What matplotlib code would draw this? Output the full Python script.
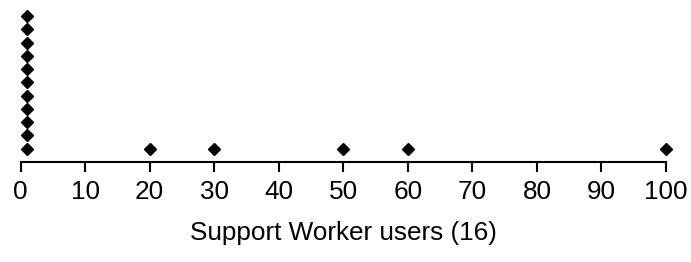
import matplotlib
matplotlib.use("Agg")
import matplotlib.pyplot as plt
from collections import Counter

# one entry per user
users = [1, 1, 1, 1, 1, 1, 1, 1, 1, 1, 1, 20, 30, 50, 60, 100]
x_ticks = [0, 10, 20, 30, 40, 50, 60, 70, 80, 90, 100]
x_label = "Support Worker users (16)"

plt.rcParams['font.family'] = ['Liberation Sans', 'DejaVu Sans']

# stack repeated values on top of each other
xs, ys = [], []
seen = Counter()
for v in users:
    seen[v] += 1
    xs.append(v)
    ys.append(seen[v])

fig = plt.figure(figsize=(6.91, 2.62), dpi=100)
ax = fig.add_axes([20.5 / 691, 0.382, (666 - 20.5) / 691, 0.607])
ax.plot(xs, ys, linestyle='none', marker='D', markersize=6.3,
        color='black', clip_on=False)

ax.set_xlim(0, 100)
ax.set_ylim(0, 12)
ax.set_xticks(x_ticks)
ax.set_yticks([])
for side in ['top', 'right', 'left']:
    ax.spines[side].set_visible(False)
ax.spines['bottom'].set_linewidth(1.5)
ax.tick_params(axis='x', direction='out', length=7.5, width=1.5,
               labelsize=18.8, pad=5.5)
ax.set_xlabel(x_label, fontsize=18.8, labelpad=12)

fig.savefig("out.png", dpi=100)
